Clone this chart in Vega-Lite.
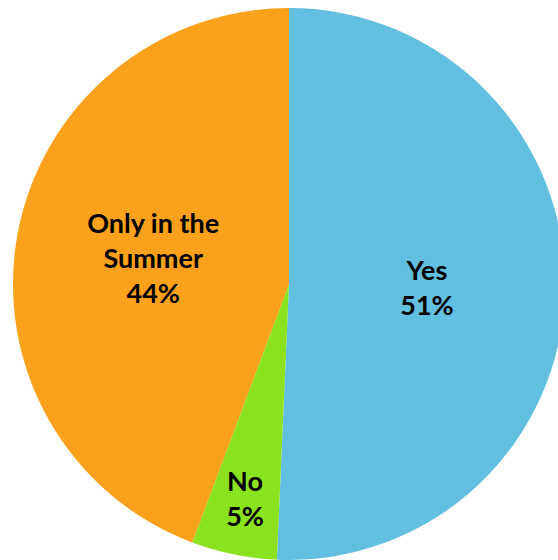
{
  "$schema": "https://vega.github.io/schema/vega-lite/v6.json",
  "autosize": {"type": "none"},
  "width": 538,
  "height": 552,
  "padding": {"left": 20, "top": 8, "right": 0, "bottom": 0},
  "background": "white",
  "view": {"stroke": null},
  "data": {
    "values": [
      {"category": "Yes", "value": 50.7, "order": 1},
      {"category": "No", "value": 5.0, "order": 2},
      {"category": "Only in the Summer", "value": 44.3, "order": 3}
    ]
  },
  "transform": [
    {"calculate": "datum.category == 'Only in the Summer' ? 'Only in the\\nSummer\\n' + round(datum.value) + '%' : datum.category + '\\n' + round(datum.value) + '%'", "as": "label"},
    {"calculate": "datum.category == 'Yes' ? datum.label : ''", "as": "labelYes"},
    {"calculate": "datum.category == 'No' ? datum.label : ''", "as": "labelNo"},
    {"calculate": "datum.category == 'Only in the Summer' ? datum.label : ''", "as": "labelOnly"}
  ],
  "encoding": {
    "theta": {"field": "value", "type": "quantitative", "stack": true},
    "order": {"field": "order", "type": "ordinal"}
  },
  "layer": [
    {
      "mark": {"type": "arc", "outerRadius": 276},
      "encoding": {
        "color": {
          "field": "category",
          "type": "nominal",
          "scale": {"domain": ["Yes", "No", "Only in the Summer"], "range": ["#62BFE0", "#8BE320", "#FBA11C"]},
          "legend": null
        }
      }
    },
    {
      "mark": {"type": "text", "font": "Lato", "fontWeight": "bold", "fontSize": 27, "lineBreak": "\n", "lineHeight": 35, "align": "center", "baseline": "middle", "color": "black", "dy": -15},
      "encoding": {
        "radius": {"value": 138},
        "text": {"field": "labelYes"}
      }
    },
    {
      "mark": {"type": "text", "font": "Lato", "fontWeight": "bold", "fontSize": 27, "lineBreak": "\n", "lineHeight": 35, "align": "center", "baseline": "middle", "color": "black", "dy": -34},
      "encoding": {
        "radius": {"value": 138},
        "text": {"field": "labelOnly"}
      }
    },
    {
      "mark": {"type": "text", "font": "Lato", "fontWeight": "bold", "fontSize": 27, "lineBreak": "\n", "lineHeight": 35, "align": "center", "baseline": "middle", "color": "black", "dy": -17},
      "encoding": {
        "radius": {"value": 220},
        "text": {"field": "labelNo"}
      }
    }
  ]
}
